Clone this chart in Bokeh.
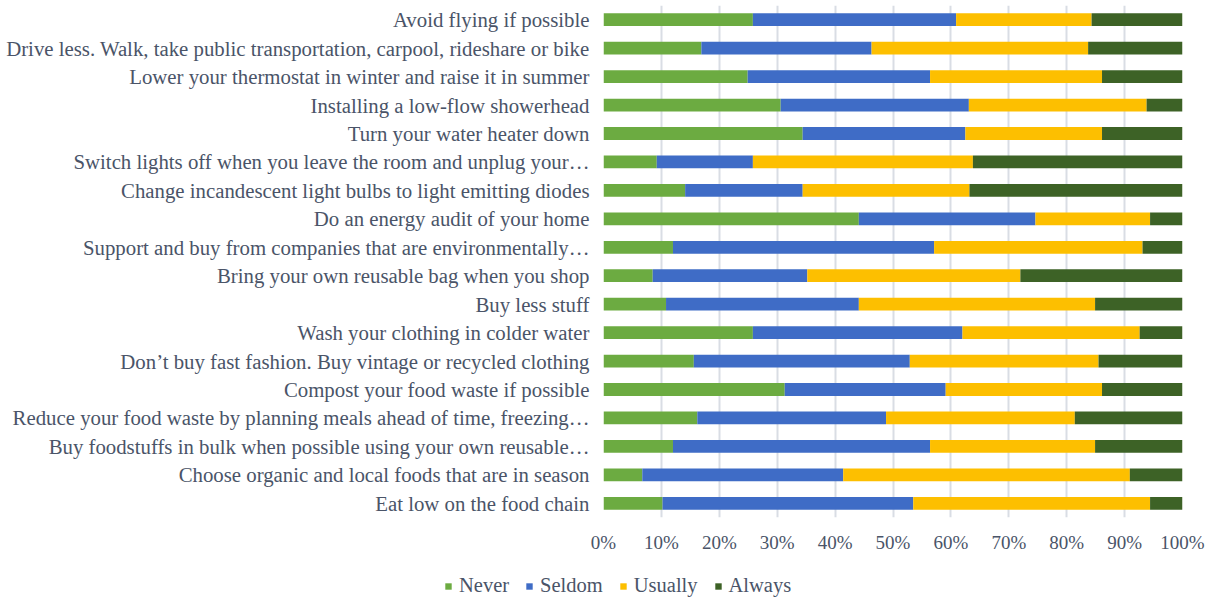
from bokeh.plotting import figure
from bokeh.models import FactorRange, Legend, LegendItem, PrintfTickFormatter, ColumnDataSource, FixedTicker, Range1d
from bokeh.embed import file_html
from bokeh.resources import INLINE

categories = [
    "Avoid flying if possible",
    "Drive less. Walk, take public transportation, carpool, rideshare or bike",
    "Lower your thermostat in winter and raise it in summer",
    "Installing a low-flow showerhead",
    "Turn your water heater down",
    "Switch lights off when you leave the room and unplug your…",
    "Change incandescent light bulbs to light emitting diodes",
    "Do an energy audit of your home",
    "Support and buy from companies that are environmentally…",
    "Bring your own reusable bag when you shop",
    "Buy less stuff",
    "Wash your clothing in colder water",
    "Don’t buy fast fashion. Buy vintage or recycled clothing",
    "Compost your food waste if possible",
    "Reduce your food waste by planning meals ahead of time, freezing…",
    "Buy foodstuffs in bulk when possible using your own reusable…",
    "Choose organic and local foods that are in season",
    "Eat low on the food chain",
]
never   = [25.8, 16.9, 24.9, 30.6, 34.4, 9.2, 14.1, 44.1, 12.0, 8.5, 10.8, 25.8, 15.6, 31.3, 16.2, 12.0, 6.7, 10.2]
seldom  = [35.1, 29.4, 31.5, 32.5, 28.1, 16.6, 20.3, 30.5, 45.1, 26.7, 33.3, 36.2, 37.3, 27.8, 32.6, 44.4, 34.7, 43.3]
usually = [23.4, 37.4, 29.7, 30.7, 23.6, 38.0, 28.8, 19.8, 36.0, 36.8, 40.8, 30.6, 32.6, 27.0, 32.6, 28.5, 49.5, 40.9]
always  = [15.7, 16.3, 13.9, 6.2, 13.9, 36.2, 36.8, 5.6, 6.9, 28.0, 15.1, 7.4, 14.5, 13.9, 18.6, 15.1, 9.1, 5.6]
series_names = ["Never", "Seldom", "Usually", "Always"]
x_ticks = [0, 10, 20, 30, 40, 50, 60, 70, 80, 90, 100]

colors = ["#6cab41", "#3f6cc6", "#fdbf00", "#3d6226"]
font = "Liberation Serif"
text_color = "#4a5468"

source = ColumnDataSource(dict(cat=categories, Never=never, Seldom=seldom, Usually=usually, Always=always))

p = figure(width=1216, height=555,
           y_range=FactorRange(factors=categories[::-1], range_padding=0),
           x_range=(0, 100),
           output_backend="svg", toolbar_location=None,
           min_border_left=603, min_border_right=34, min_border_top=5, min_border_bottom=38)

renderers = p.hbar_stack(series_names, y="cat", height=0.45, color=colors, source=source, line_color=None)

p.outline_line_color = None
p.ygrid.grid_line_color = None
p.xgrid.grid_line_color = "#d9dde4"
p.xgrid.grid_line_width = 2
p.xaxis.ticker = FixedTicker(ticks=x_ticks)
p.xaxis.formatter = PrintfTickFormatter(format="%d%%")

for ax in (p.xaxis, p.yaxis):
    ax.axis_line_color = None
    ax.major_tick_line_color = None
    ax.minor_tick_line_color = None
    ax.major_tick_out = 0
    ax.major_tick_in = 0
    ax.major_label_text_font = font
    ax.major_label_text_color = text_color
p.xaxis.major_label_text_font_size = "19px"
p.yaxis.major_label_text_font_size = "20.8px"
p.yaxis.major_label_standoff = 14
p.xaxis.major_label_standoff = 14

# legend strip below the chart (separate root, so its frame spans the full width)
lg = figure(width=1216, height=44, x_range=Range1d(0, 1216), y_range=Range1d(0, 44),
            output_backend="svg", toolbar_location=None,
            min_border_left=0, min_border_right=0, min_border_top=0, min_border_bottom=0)
lg.axis.visible = False
lg.grid.visible = False
lg.outline_line_color = None
legend_renderers = [lg.hbar(y=[-100], left=[0], right=[1], height=1, color=c, line_color=None) for c in colors]

legend = Legend(items=[LegendItem(label=n, renderers=[r]) for n, r in zip(series_names, legend_renderers)],
                orientation="horizontal", location=(444, 2),
                glyph_width=8, glyph_height=8, label_standoff=7, spacing=16,
                label_text_font=font, label_text_font_size="20.5px", label_text_color=text_color,
                background_fill_alpha=0, border_line_alpha=0, padding=0, margin=0)
lg.add_layout(legend, "center")

open("out.html", "w").write(file_html([p, lg], INLINE))
